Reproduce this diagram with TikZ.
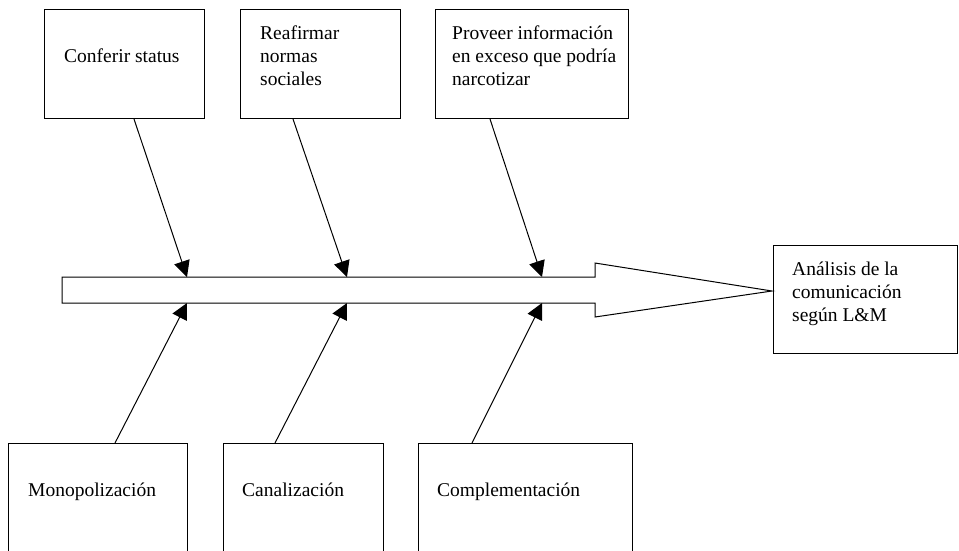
\documentclass[tikz,border=0pt]{standalone}
\usepackage{fontspec}
\setmainfont{Liberation Serif}
\usetikzlibrary{arrows.meta,calc}
\begin{document}
\begin{tikzpicture}[x=1pt,y=-1pt,
  box/.style={draw, line width=1pt, rectangle, anchor=north west, inner sep=0pt},
  txt/.style={anchor=base west, inner sep=0pt, font=\fontsize{19.5pt}{23pt}\selectfont},
  conn/.style={line width=1pt, -{Triangle[length=16pt,width=16pt]}},
  bigarrow/.style={draw, line width=1pt, fill=white, line join=miter}]
\path[use as bounding box] (0,0) rectangle (959,550);
\clip (0,0) rectangle (959,550);

% top boxes
\node[box, minimum width=160pt, minimum height=109pt] (c1) at (44,9) {};
\node[box, minimum width=160pt, minimum height=109pt] (c2) at (240,9) {};
\node[box, minimum width=193pt, minimum height=109pt] (c3) at (435,9) {};
% result box
\node[box, minimum width=184pt, minimum height=108pt] (res) at (773,245) {};
% bottom boxes (cut by the page edge)
\node[box, minimum width=179pt, minimum height=130pt] (b1) at (8,443) {};
\node[box, minimum width=160pt, minimum height=130pt] (b2) at (223,443) {};
\node[box, minimum width=214pt, minimum height=130pt] (b3) at (418,443) {};

% texts
\node[txt] (tc1) at ($(c1.north west)+(20,53)$) {Conferir status};
\node[txt] (tc2) at ($(c2.north west)+(20,30)$) {\parbox[t]{150pt}{\raggedright Reafirmar\\normas\\sociales}};
\node[txt] (tc3) at ($(c3.north west)+(17,30)$) {\parbox[t]{185pt}{\raggedright Proveer información\\en exceso que podría\\narcotizar}};
\node[txt] (tres) at ($(res.north west)+(19,30)$) {\parbox[t]{170pt}{\raggedright Análisis de la\\comunicación\\según L\&M}};
\node[txt] (tb1) at ($(b1.north west)+(20,53)$) {Monopolización};
\node[txt] (tb2) at ($(b2.north west)+(19,53)$) {Canalización};
\node[txt] (tb3) at ($(b3.north west)+(19,53)$) {Complementación};

% big arrow (spine)
\draw[bigarrow] (62,277) -- (595,277) -- (595,263) -- (772,291) -- (595,317) -- (595,303) -- (62,303) -- cycle;
\coordinate (t1) at (187,277);
\coordinate (t2) at (347,277);
\coordinate (t3) at (542,277);
\coordinate (u1) at (187,303);
\coordinate (u2) at (347,303);
\coordinate (u3) at (542,303);

% connectors
\draw[conn] ($(c1.south west)+(90,0)$) -- (t1);
\draw[conn] ($(c2.south west)+(53,0)$) -- (t2);
\draw[conn] ($(c3.south west)+(55,0)$) -- (t3);
\draw[conn] ($(b1.north west)+(107,0)$) -- (u1);
\draw[conn] ($(b2.north west)+(52,0)$) -- (u2);
\draw[conn] ($(b3.north west)+(54,0)$) -- (u3);
\end{tikzpicture}
\end{document}
